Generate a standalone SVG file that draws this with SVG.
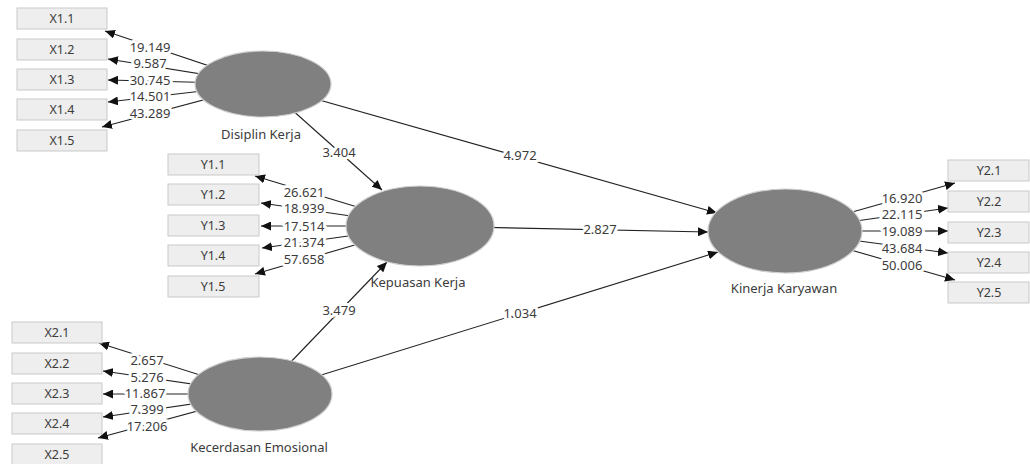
<svg xmlns="http://www.w3.org/2000/svg" width="1030" height="464" viewBox="0 0 1030 464">
  <style>
    .box { fill: #eeeeee; stroke: #c9c9c9; stroke-width: 1; }
    .lv { fill: #808080; stroke: #cfcfcf; stroke-width: 1.2; }
    .bt { font-family: "Noto Sans", "Open Sans", sans-serif; font-size: 12.5px; fill: #3c3c3c; text-anchor: middle; dominant-baseline: central; }
    .nt { font-family: "Noto Sans", "Open Sans", sans-serif; font-size: 13px; fill: #3c3c3c; text-anchor: middle; dominant-baseline: central; }
    .w { font-family: "Noto Sans", "Open Sans", sans-serif; font-size: 13px; fill: #3c3c3c; text-anchor: middle; dominant-baseline: central; stroke: #ffffff; stroke-width: 6; paint-order: stroke; stroke-linejoin: round; }
    .c { stroke: #222222; stroke-width: 1.1; fill: none; marker-end: url(#ah); }
  </style>
  <defs>
    <marker id="ah" markerUnits="userSpaceOnUse" markerWidth="11" markerHeight="9" refX="10" refY="4.5" orient="auto">
      <path d="M0,0 L10,4.5 L0,9 Z" fill="#111111"/>
    </marker>
  </defs>

  <!-- connectors: drawn from latent centres, ellipses cover the inner ends -->
  <g id="connectors">
    <!-- Disiplin Kerja indicators -->
    <line class="c" x1="263" y1="84" x2="105" y2="31"/>
    <line class="c" x1="263" y1="84" x2="108" y2="59"/>
    <line class="c" x1="263" y1="84" x2="108" y2="80"/>
    <line class="c" x1="263" y1="84" x2="108" y2="102"/>
    <line class="c" x1="263" y1="84" x2="102" y2="127"/>
    <!-- Kepuasan Kerja indicators -->
    <line class="c" x1="420" y1="226" x2="255" y2="176"/>
    <line class="c" x1="420" y1="226" x2="261" y2="203"/>
    <line class="c" x1="420" y1="226" x2="261" y2="226"/>
    <line class="c" x1="420" y1="226" x2="262" y2="248"/>
    <line class="c" x1="420" y1="226" x2="255" y2="274"/>
    <!-- Kecerdasan Emosional indicators -->
    <line class="c" x1="260" y1="394" x2="99" y2="343"/>
    <line class="c" x1="260" y1="394" x2="103" y2="371"/>
    <line class="c" x1="260" y1="394" x2="103" y2="394"/>
    <line class="c" x1="260" y1="394" x2="103" y2="417"/>
    <line class="c" x1="260" y1="394" x2="98" y2="438"/>
    <!-- Kinerja Karyawan indicators -->
    <line class="c" x1="785" y1="231" x2="955" y2="183"/>
    <line class="c" x1="785" y1="231" x2="948" y2="208"/>
    <line class="c" x1="785" y1="231" x2="948" y2="231"/>
    <line class="c" x1="785" y1="231" x2="948" y2="253"/>
    <line class="c" x1="785" y1="231" x2="955" y2="280"/>
    <!-- structural paths -->
    <line class="c" x1="263" y1="84" x2="382" y2="190"/>
    <line class="c" x1="263" y1="84" x2="717" y2="213"/>
    <line class="c" x1="420" y1="226" x2="708" y2="232"/>
    <line class="c" x1="260" y1="394" x2="387" y2="262"/>
    <line class="c" x1="260" y1="394" x2="718" y2="252"/>
  </g>

  <!-- latent variables -->
  <g id="disiplin-kerja">
    <ellipse class="lv" cx="263" cy="84" rx="68" ry="33"/>
    <text class="nt" x="261" y="134">Disiplin Kerja</text>
  </g>
  <g id="kepuasan-kerja">
    <ellipse class="lv" cx="420" cy="226" rx="74" ry="40"/>
    <text class="nt" x="418" y="282">Kepuasan Kerja</text>
  </g>
  <g id="kecerdasan-emosional">
    <ellipse class="lv" cx="260" cy="394" rx="72" ry="37"/>
    <text class="nt" x="259" y="447">Kecerdasan Emosional</text>
  </g>
  <g id="kinerja-karyawan">
    <ellipse class="lv" cx="785" cy="231" rx="77" ry="42"/>
    <text class="nt" x="784" y="288">Kinerja Karyawan</text>
  </g>

  <!-- indicators -->
  <g id="x1-1"><rect class="box" x="17" y="8" width="90" height="21"/><text class="bt" x="62" y="18.5">X1.1</text></g>
  <g id="x1-2"><rect class="box" x="17" y="39" width="90" height="21"/><text class="bt" x="62" y="49.5">X1.2</text></g>
  <g id="x1-3"><rect class="box" x="17" y="69" width="90" height="21"/><text class="bt" x="62" y="79.5">X1.3</text></g>
  <g id="x1-4"><rect class="box" x="17" y="99" width="90" height="21"/><text class="bt" x="62" y="109.5">X1.4</text></g>
  <g id="x1-5"><rect class="box" x="17" y="130" width="90" height="21"/><text class="bt" x="62" y="140.5">X1.5</text></g>

  <g id="y1-1"><rect class="box" x="168" y="154" width="91" height="21"/><text class="bt" x="213" y="164.5">Y1.1</text></g>
  <g id="y1-2"><rect class="box" x="168" y="184" width="91" height="21"/><text class="bt" x="213" y="194.5">Y1.2</text></g>
  <g id="y1-3"><rect class="box" x="168" y="215" width="91" height="21"/><text class="bt" x="213" y="225.5">Y1.3</text></g>
  <g id="y1-4"><rect class="box" x="168" y="245" width="91" height="21"/><text class="bt" x="213" y="255.5">Y1.4</text></g>
  <g id="y1-5"><rect class="box" x="168" y="276" width="91" height="21"/><text class="bt" x="213" y="286.5">Y1.5</text></g>

  <g id="x2-1"><rect class="box" x="12" y="322" width="90" height="21"/><text class="bt" x="57" y="332.5">X2.1</text></g>
  <g id="x2-2"><rect class="box" x="12" y="353" width="90" height="21"/><text class="bt" x="57" y="363.5">X2.2</text></g>
  <g id="x2-3"><rect class="box" x="12" y="383" width="90" height="21"/><text class="bt" x="57" y="393.5">X2.3</text></g>
  <g id="x2-4"><rect class="box" x="12" y="413" width="90" height="21"/><text class="bt" x="57" y="423.5">X2.4</text></g>
  <g id="x2-5"><rect class="box" x="12" y="444" width="90" height="21"/><text class="bt" x="57" y="454.5">X2.5</text></g>

  <g id="y2-1"><rect class="box" x="948" y="160" width="81" height="21"/><text class="bt" x="989" y="170.5">Y2.1</text></g>
  <g id="y2-2"><rect class="box" x="948" y="191" width="81" height="21"/><text class="bt" x="989" y="201.5">Y2.2</text></g>
  <g id="y2-3"><rect class="box" x="948" y="222" width="81" height="21"/><text class="bt" x="989" y="232.5">Y2.3</text></g>
  <g id="y2-4"><rect class="box" x="948" y="252" width="81" height="21"/><text class="bt" x="989" y="262.5">Y2.4</text></g>
  <g id="y2-5"><rect class="box" x="948" y="282" width="81" height="21"/><text class="bt" x="989" y="292.5">Y2.5</text></g>

  <!-- path coefficients / t-values -->
  <g id="labels">
    <text class="w" x="150" y="47">19.149</text>
    <text class="w" x="150" y="63">9.587</text>
    <text class="w" x="150" y="79.5">30.745</text>
    <text class="w" x="150" y="96">14.501</text>
    <text class="w" x="150" y="112.5">43.289</text>

    <text class="w" x="304" y="192">26.621</text>
    <text class="w" x="304" y="208">18.939</text>
    <text class="w" x="304" y="226">17.514</text>
    <text class="w" x="304" y="242">21.374</text>
    <text class="w" x="304" y="259">57.658</text>

    <text class="w" x="147" y="360">2.657</text>
    <text class="w" x="147" y="376.5">5.276</text>
    <text class="w" x="145" y="392.5">11.867</text>
    <text class="w" x="147" y="409">7.399</text>
    <text class="w" x="147" y="426">17.206</text>

    <text class="w" x="902" y="198">16.920</text>
    <text class="w" x="902" y="214">22.115</text>
    <text class="w" x="902" y="231">19.089</text>
    <text class="w" x="902" y="248">43.684</text>
    <text class="w" x="902" y="265">50.006</text>

    <text class="w" x="339" y="152">3.404</text>
    <text class="w" x="520" y="155">4.972</text>
    <text class="w" x="600" y="229">2.827</text>
    <text class="w" x="339" y="310">3.479</text>
    <text class="w" x="520" y="313">1.034</text>
  </g>
</svg>
